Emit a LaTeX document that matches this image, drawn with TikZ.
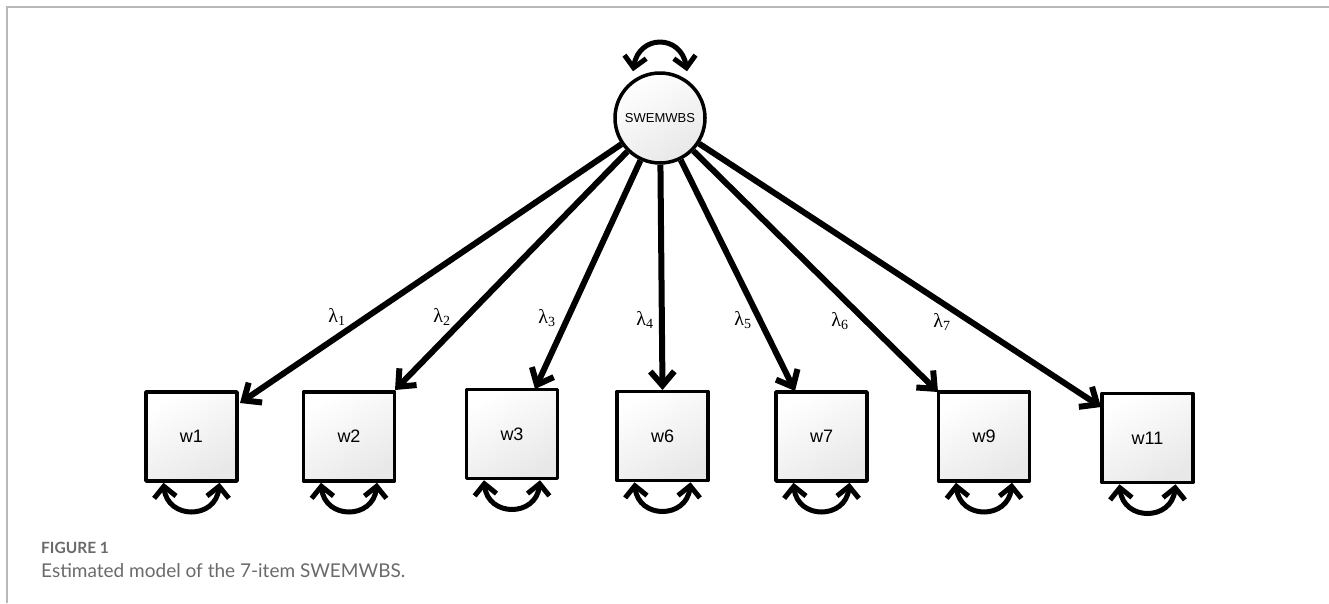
\documentclass[tikz,border=0pt]{standalone}
\usepackage{fontspec}
\setsansfont{Liberation Sans}
\newfontfamily\capfont{Lato}
\newfontfamily\lamfont{Liberation Serif}
\usetikzlibrary{arrows.meta}
\definecolor{framegray}{HTML}{B8B8B8}
\definecolor{capgray}{HTML}{6A6A6A}
\begin{document}
\begin{tikzpicture}[x=1pt,y=-1pt,
  obs/.style={draw, line width=3.5pt, line join=round, minimum width=91pt, minimum height=89pt,
    top color=white, bottom color=black!9, shading angle=30, inner sep=0pt,
    font=\sffamily\fontsize{18}{18}\selectfont},
  lat/.style={circle, draw, line width=3.5pt, minimum size=90pt, inner sep=0pt,
    top color=white, bottom color=black!9, shading angle=30,
    font=\sffamily\fontsize{13}{13}\selectfont},
  load/.style={line width=6pt, -{Straight Barb[length=14pt,width=24pt]}},
  var/.style={line width=5pt, {Straight Barb[length=11pt,width=22pt]}-{Straight Barb[length=11pt,width=22pt]}},
  lab/.style={font=\lamfont\fontsize{20}{20}\selectfont, inner sep=0pt},
  frame/.style={draw=framegray, line width=2pt}
]
\useasboundingbox (0,0) rectangle (1329,603);
\coordinate (fl) at (7,603);
\coordinate (fc) at (7,7);
\coordinate (fr) at (1329,7);
\draw[frame] (fl) -- (fc) -- (fr);

\node[lat] (s) at (660,118) {SWEMWBS};

\node[obs] (w1) at (191.5,436.5) {w1};
\node[obs] (w2) at (349,436.5) {w2};
\node[obs] (w3) at (512,434) {w3};
\node[obs] (w6) at (662.5,436) {w6};
\node[obs] (w7) at (821.5,436.5) {w7};
\node[obs] (w9) at (984,436.5) {w9};
\node[obs] (w11) at (1147.5,438) {w11};

\coordinate (t1) at (240,403);
\coordinate (t2) at (395,390);
\coordinate (t3) at (535,389);
\coordinate (t6) at (662.5,390);
\coordinate (t7) at (795,391);
\coordinate (t9) at (938,392);
\coordinate (t11) at (1101,407);

\foreach \t in {t1,t2,t3,t6,t7,t9,t11}{
  \draw[load] (s) -- (\t);
}

\node[lab] (l1) at (337,317) {λ\textsubscript{1}};
\node[lab] (l2) at (442,317) {λ\textsubscript{2}};
\node[lab] (l3) at (547,318) {λ\textsubscript{3}};
\node[lab] (l4) at (645,320) {λ\textsubscript{4}};
\node[lab] (l5) at (743,320) {λ\textsubscript{5}};
\node[lab] (l6) at (840,321) {λ\textsubscript{6}};
\node[lab] (l7) at (942,322) {λ\textsubscript{7}};

\draw[var] ([xshift=-27pt]s.north) .. controls +(6,-37) and +(-6,-37) .. ([xshift=27pt]s.north);

\foreach \w in {w1,w2,w3,w6,w7,w9,w11}{
  \draw[var] ([xshift=-28pt]\w.south) .. controls +(4,37) and +(-4,37) .. ([xshift=28pt]\w.south);
}

\node[anchor=west, inner sep=0pt, text=capgray, font=\capfont\bfseries\fontsize{15.5}{16}\selectfont] (fig) at (41,548) {FIGURE 1};
\node[anchor=west, inner sep=0pt, text=capgray, font=\capfont\fontsize{19}{20}\selectfont] (cap) at (41,571) {Estimated model of the 7-item SWEMWBS.};
\end{tikzpicture}
\end{document}
